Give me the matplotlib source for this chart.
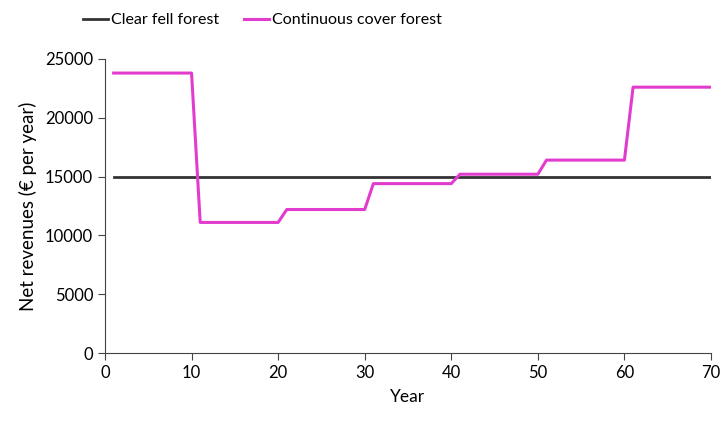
import numpy as np
import matplotlib.pyplot as plt

plt.rcParams['font.family'] = ['Lato', 'DejaVu Sans']

# dados
anos = np.arange(1, 71)
clear_fell = [15000] * 70
ccf_niveis = [23800, 11100, 12200, 14400, 15200, 16400, 22600]
continuous = np.repeat(ccf_niveis, 10)

fig = plt.figure(figsize=(7.23, 4.21), dpi=100)
ax = fig.add_axes([0.1452, 0.1615, 0.8382, 0.6985])

ax.plot(anos, clear_fell, color='#333333', lw=2, label='Clear fell forest')
ax.plot(anos, continuous, color='#E23CCF', lw=2.2, label='Continuous cover forest')

ax.set_xlim(0, 70)
ax.set_ylim(0, 25000)
ax.set_xticks(range(0, 71, 10))
ax.set_yticks(range(0, 25001, 5000))
ax.tick_params(labelsize=12, length=5, color='#444444')
ax.set_xlabel('Year', fontsize=12.5, labelpad=6)
ax.set_ylabel('Net revenues (€ per year)', fontsize=13.5, labelpad=6)
for s in ['top', 'right']:
    ax.spines[s].set_visible(False)
for s in ['left', 'bottom']:
    ax.spines[s].set_color('#444444')

fig.legend(loc='upper center', bbox_to_anchor=(0.363, 1.003), ncol=2, frameon=False,
           fontsize=11.5, handlelength=1.6, handletextpad=0.2, columnspacing=1.5)

plt.savefig('out.png', dpi=100)
